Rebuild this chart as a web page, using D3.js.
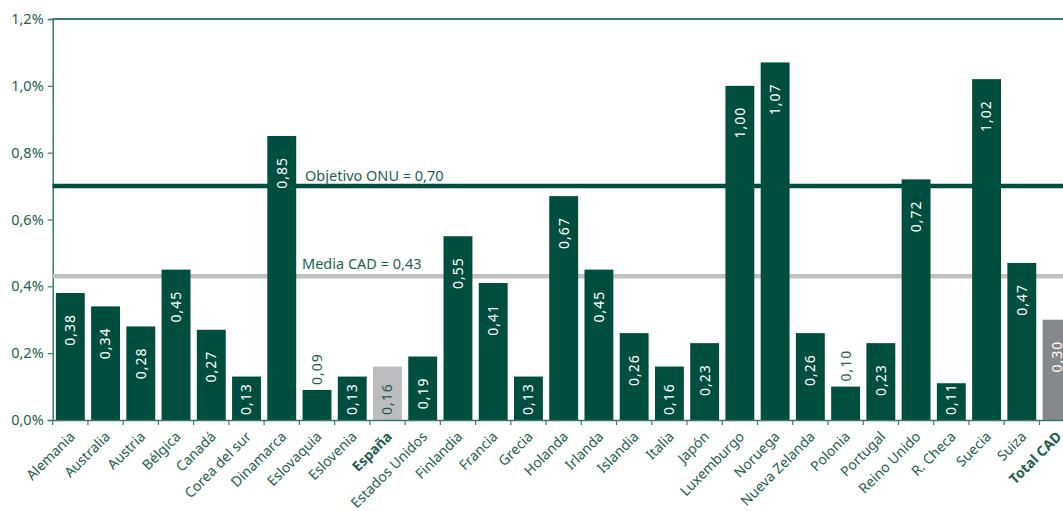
<!DOCTYPE html>
<html>
<head>
<meta charset="utf-8">
<script src="https://cdn.jsdelivr.net/npm/d3@7"></script>
<style>
  html, body { margin: 0; padding: 0; background: #fff; overflow: hidden; }
  svg { display: block; }
</style>
</head>
<body>
<svg id="chart" width="1063" height="511"></svg>
<script>
const categories = ["Alemania","Australia","Austria","Bélgica","Canadá","Corea del sur","Dinamarca","Eslovaquia","Eslovenia","España","Estados Unidos","Finlandia","Francia","Grecia","Holanda","Irlanda","Islandia","Italia","Japón","Luxemburgo","Noruega","Nueva Zelanda","Polonia","Portugal","Reino Unido","R. Checa","Suecia","Suiza","Total CAD"];
const values = [0.38,0.34,0.28,0.45,0.27,0.13,0.85,0.09,0.13,0.16,0.19,0.55,0.41,0.13,0.67,0.45,0.26,0.16,0.23,1.00,1.07,0.26,0.10,0.23,0.72,0.11,1.02,0.47,0.30];
const yTicks = [0, 0.2, 0.4, 0.6, 0.8, 1.0, 1.2];
const refLines = [
  {name: "Objetivo ONU = 0,70", value: 0.70},
  {name: "Media CAD = 0,43", value: 0.43}
];
const highlight = {"España": "spain", "Total CAD": "total"};

(function () {
const DARK = "#004f3e";
const TEXT = "#1d5f4f";
const AXIS = "#3a7a6a";
const FONT = "'Noto Sans', sans-serif";

const mLeft = 52.7, mTop = 19, mBottom = 420;
const step = 35.24;
const mRight = mLeft + step * categories.length;

const svg = d3.select("#chart");

const x = d3.scaleBand().domain(categories).range([mLeft, mRight])
  .paddingInner(0.18).paddingOuter(0.09);
const y = d3.scaleLinear().domain([0, 1.2]).range([mBottom, mTop]);

// top border
svg.append("line").attr("x1", mLeft).attr("x2", mRight).attr("y1", y(1.2)).attr("y2", y(1.2))
  .attr("stroke", DARK).attr("stroke-width", 1.5);

// y axis
const yAxis = svg.append("g").attr("transform", `translate(${mLeft},0)`)
  .call(d3.axisLeft(y).tickValues(yTicks).tickSize(5).tickPadding(4)
    .tickFormat(d => d.toFixed(1).replace(".", ",") + "%"));
yAxis.select(".domain").attr("stroke", AXIS).attr("stroke-width", 1.5);
yAxis.selectAll(".tick line").attr("stroke", AXIS).attr("stroke-width", 1.2);
yAxis.selectAll(".tick text").attr("fill", TEXT).style("font-family", FONT).style("font-size", "14.5px");

// reference lines (behind bars)
svg.append("line").attr("x1", mLeft).attr("x2", mRight)
  .attr("y1", y(refLines[1].value)).attr("y2", y(refLines[1].value))
  .attr("stroke", "#c0c0c2").attr("stroke-width", 4.5);
svg.append("line").attr("x1", mLeft).attr("x2", mRight)
  .attr("y1", y(refLines[0].value)).attr("y2", y(refLines[0].value))
  .attr("stroke", DARK).attr("stroke-width", 4.5);

// bars
const fillFor = c => highlight[c] === "spain" ? "#bdbdbf" : highlight[c] === "total" ? "#87888b" : DARK;
svg.append("g").selectAll("rect").data(categories).join("rect")
  .attr("x", c => x(c)).attr("width", x.bandwidth())
  .attr("y", (c, i) => y(values[i])).attr("height", (c, i) => mBottom - y(values[i]))
  .attr("fill", fillFor);

// x axis
const xAxis = svg.append("g").attr("transform", `translate(0,${mBottom})`)
  .call(d3.axisBottom(x).tickSize(0).tickFormat(""));
xAxis.select(".domain").attr("stroke", AXIS).attr("stroke-width", 1.5);
xAxis.selectAll(".tick").remove();
// boundary ticks
svg.append("g").selectAll("line").data(categories).join("line")
  .attr("x1", c => x(c) - x.step() * x.paddingOuter())
  .attr("x2", c => x(c) - x.step() * x.paddingOuter())
  .attr("y1", mBottom).attr("y2", mBottom + 5)
  .attr("stroke", AXIS).attr("stroke-width", 1.2);

// x labels
svg.append("g").selectAll("text").data(categories).join("text")
  .attr("transform", c => `translate(${x(c) + x.bandwidth() / 2 + 2},${mBottom + 14}) rotate(-45)`)
  .attr("text-anchor", "end").attr("dy", "0.35em")
  .attr("fill", TEXT).style("font-family", FONT).style("font-size", "14px")
  .style("font-weight", c => highlight[c] ? "bold" : "normal")
  .text(c => c);

// bar value labels
const fmt = v => v.toFixed(2).replace(".", ",");
const lbl = svg.append("g").selectAll("text").data(categories).join("text")
  .attr("fill", "#fff").style("font-family", FONT).style("font-size", "14px")
  .style("letter-spacing", "1px")
  .text((c, i) => fmt(values[i]));
lbl.each(function (c, i) {
  const t = d3.select(this);
  const len = this.getComputedTextLength();
  const cx = x(c) + x.bandwidth() / 2;
  const yt = y(values[i]);
  const h = mBottom - yt;
  if (h >= len + 3.5) {
    const endY = Math.min(yt + 21, mBottom - 5 - len);
    t.attr("transform", `translate(${cx},${endY}) rotate(-90)`)
      .attr("text-anchor", "end").attr("dy", "0.35em")
      .attr("fill", highlight[c] === "spain" ? TEXT : "#fff");
  } else {
    t.attr("transform", `translate(${cx},${yt - 5}) rotate(-90)`)
      .attr("text-anchor", "start").attr("dy", "0.35em")
      .attr("fill", TEXT);
  }
});

// reference labels
svg.append("text").attr("x", 305).attr("y", y(refLines[0].value) - 5.5)
  .attr("fill", TEXT).style("font-family", FONT).style("font-size", "14.5px")
  .text(refLines[0].name);
svg.append("text").attr("x", 302).attr("y", y(refLines[1].value) - 7)
  .attr("fill", TEXT).style("font-family", FONT).style("font-size", "14.5px")
  .text(refLines[1].name);
})();
</script>
</body>
</html>
